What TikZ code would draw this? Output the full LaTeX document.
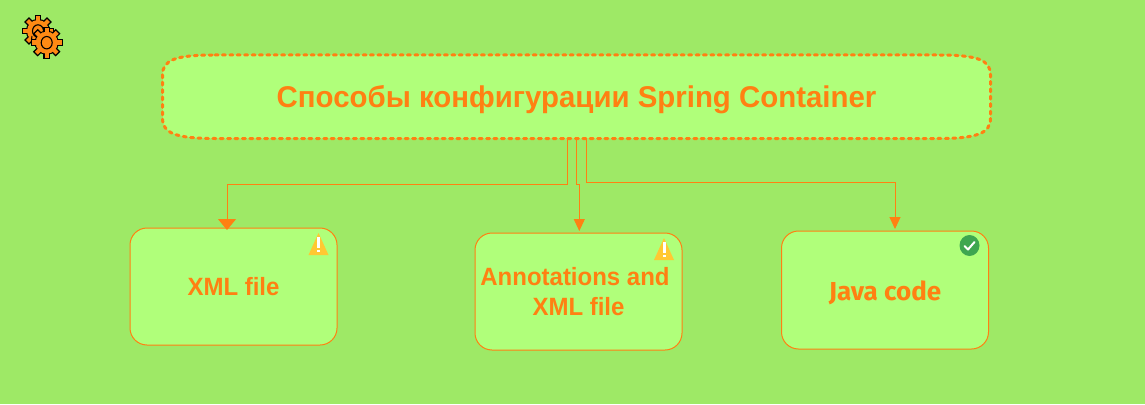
\documentclass[tikz,border=0pt]{standalone}
\usepackage{fontspec}
\setmainfont{Liberation Sans}
\newfontfamily\javafont{Fira Sans}
\newfontfamily\titlefont[FakeStretch=0.98]{Liberation Sans}
\newfontfamily\cardfont[FakeStretch=0.96]{Liberation Sans}
\usetikzlibrary{arrows.meta,calc}
\definecolor{bgc}{HTML}{9EE966}
\definecolor{boxc}{HTML}{B0FF7A}
\definecolor{org}{HTML}{FF8012}
\definecolor{gearc}{HTML}{FF8A14}
\definecolor{warnc}{HTML}{FFC832}
\definecolor{okc}{HTML}{3EA650}
\tikzset{
  titleline/.style={draw=org,fill=boxc,line width=3pt,dash pattern=on 3pt off 4.4pt,line cap=round},
  titlebox/.style={minimum width=828pt,minimum height=84pt,inner sep=0pt,text height=22pt,text depth=0pt,text=org,font=\titlefont\bfseries\fontsize{30}{34}\selectfont},
  cardbox/.style={draw=org,fill=boxc,line width=1pt,rounded corners=17pt,minimum width=207pt,minimum height=117pt,inner sep=0pt,align=center,text=org,font=\cardfont\bfseries\fontsize{25}{30}\selectfont},
  conn/.style={draw=org,line width=1pt},
  tipbig/.style={-{Triangle[length=11pt,width=18pt,fill=org]}},
  tipsmall/.style={-{Triangle[length=12pt,width=11pt,fill=org]}},
}
\newcommand{\mygear}[2]{%
  \begin{scope}[shift={(#1,#2)}]
    \fill[gearc,draw=black,line width=1.2pt] (0,0) circle (11.5);
    \foreach \a in {0,45,...,315}{
      \fill[gearc,draw=black,line width=1.2pt,rotate=\a] (9,-2.8) rectangle (15.5,2.8);
    }
    \fill[gearc] (0,0) circle (11);
    \draw[black,line width=1.1pt] (0,0) ellipse (5.5 and 6.2);
  \end{scope}}
\newcommand{\mywarn}[2]{%
  \begin{scope}[shift={(#1,#2)}]
    \fill[warnc] (0,-12) -- (10,10) -- (-10,10) -- cycle;
    \fill[white] (-1.5,-8) rectangle (1.5,3);
    \fill[white] (-1.5,4.5) rectangle (1.5,7);
  \end{scope}}
\begin{document}
\begin{tikzpicture}[x=1pt,y=-1pt]
\useasboundingbox (0,0) rectangle (1145,404);
\fill[bgc] (0,0) rectangle (1145,404);
% gears
\mygear{38}{31}
\draw[black,line width=1pt] (32,36) arc[start angle=200,end angle=20,radius=6];
\mygear{46.7}{42.7}
% title
\path[titleline] (215,55) -- (938,55)
  .. controls (978,55) and (990.5,60) .. (990.5,75) -- (990.5,118)
  .. controls (990.5,133) and (978,138.5) .. (938,138.5) -- (215,138.5)
  .. controls (175,138.5) and (162.5,133) .. (162.5,118) -- (162.5,75)
  .. controls (162.5,60) and (175,55) .. (215,55) -- cycle;
\node[titlebox] (title) at (576.5,96.5) {Способы конфигурации Spring Container};
% boxes
\node[cardbox] (xml) at (233.5,286.5) {XML file};
\node[cardbox] (ann) at (578.5,291.5) {Annotations and\hspace*{7pt}\\XML file};
\node[cardbox,minimum height=118pt,text height=20pt,text depth=0pt,font=\javafont\bfseries\fontsize{26}{30}\selectfont] (java) at (885,290) {Java code};
% connector ends
\coordinate (s1) at (567.6,137.5);
\coordinate (s2) at (576.3,137.5);
\coordinate (s3) at (586.3,137.5);
\coordinate (e1) at (227,230);
\coordinate (e2) at (579.3,231);
\coordinate (e3) at (895,229);
\draw[conn,tipbig] (s1) -- (567.6,184) -- (227,184) -- (e1);
\draw[conn,tipsmall] (s2) -- (576.3,184) -- (579.3,184) -- (e2);
\draw[conn,tipsmall] (s3) -- (586.3,182) -- (895,182) -- (e3);
% badges
\mywarn{318.5}{245}
\mywarn{664}{250}
\fill[okc] (969.5,245.5) ellipse (10 and 10.5);
\draw[white,line width=2pt,line cap=round,line join=round] (964.5,246) -- (968,249.5) -- (974.5,242);
\end{tikzpicture}
\end{document}
